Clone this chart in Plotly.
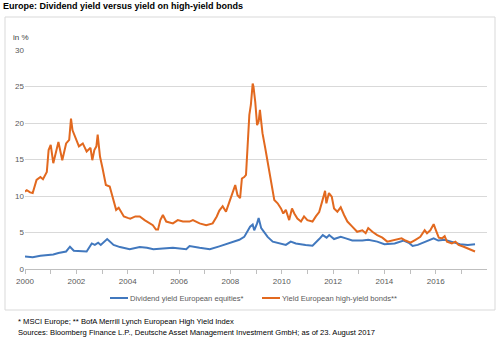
import datetime as dt
import plotly.graph_objects as go

# ---------------- data (decimal years, % values) ----------------
bond_years = [2000.00, 2000.07, 2000.2, 2000.3, 2000.45, 2000.6, 2000.7, 2000.85, 2000.92, 2001.0,
              2001.1, 2001.25, 2001.3, 2001.45, 2001.6, 2001.72, 2001.79, 2001.85, 2001.95, 2002.1,
              2002.25, 2002.4, 2002.55, 2002.62, 2002.7, 2002.78, 2002.83, 2002.92, 2003.02, 2003.15,
              2003.3, 2003.45, 2003.55, 2003.65, 2003.75, 2003.85, 2004.0, 2004.1, 2004.3, 2004.47,
              2004.66, 2004.85, 2004.98, 2005.1, 2005.18, 2005.27, 2005.37, 2005.5, 2005.76, 2005.95,
              2006.15, 2006.41, 2006.54, 2006.8, 2007.06, 2007.31, 2007.47, 2007.57, 2007.7, 2007.83,
              2007.96, 2008.09, 2008.19, 2008.28, 2008.38, 2008.45, 2008.54, 2008.61, 2008.67, 2008.74,
              2008.8, 2008.87, 2008.9, 2008.97, 2009.04, 2009.1, 2009.15, 2009.2, 2009.25, 2009.36,
              2009.45, 2009.51, 2009.62, 2009.71, 2009.84, 2009.97, 2010.06, 2010.16, 2010.29, 2010.4,
              2010.49, 2010.61, 2010.75, 2010.87, 2011.0, 2011.2, 2011.33, 2011.46, 2011.58, 2011.69,
              2011.74, 2011.84, 2011.95, 2012.04, 2012.17, 2012.3, 2012.43, 2012.56, 2012.75, 2012.94,
              2013.14, 2013.27, 2013.37, 2013.53, 2013.72, 2013.92, 2014.11, 2014.3, 2014.5, 2014.67,
              2014.82, 2015.02, 2015.21, 2015.4, 2015.57, 2015.66, 2015.79, 2015.92, 2016.01, 2016.12,
              2016.25, 2016.35, 2016.44, 2016.63, 2016.77, 2016.89, 2017.09, 2017.28, 2017.39, 2017.53]
bond_values = [10.6, 10.8, 10.5, 10.4, 12.2, 12.6, 12.3, 13.3, 16.3, 17.0,
               14.5, 16.8, 17.4, 14.9, 17.2, 17.7, 20.6, 19.0, 18.1, 16.8,
               17.2, 16.1, 16.6, 14.9, 16.3, 16.8, 18.4, 15.4, 13.8, 11.5,
               11.3, 9.2, 8.1, 8.4, 7.8, 7.2, 7.0, 6.9, 7.2, 7.2,
               6.7, 6.3, 6.0, 5.4, 5.4, 6.7, 7.4, 6.5, 6.25, 6.7,
               6.5, 6.5, 6.7, 6.25, 6.0, 6.25, 7.2, 8.0, 8.6, 7.85,
               9.2, 10.6, 11.5, 10.1, 9.7, 12.4, 12.6, 12.9, 16.5, 21.1,
               22.5, 25.4, 25.0, 22.9, 19.7, 20.2, 21.8, 19.7, 18.6, 16.5,
               14.7, 13.3, 11.05, 9.45, 9.0, 8.3, 7.6, 8.1, 6.7, 8.3,
               7.6, 6.9, 6.5, 7.2, 6.7, 6.5, 7.2, 7.8, 9.3, 10.7,
               9.0, 10.4, 9.9, 8.3, 7.85, 8.45, 7.4, 6.5, 5.8, 5.1,
               5.3, 4.9, 5.6, 5.1, 4.65, 4.3, 3.75, 3.9, 4.0, 4.2,
               3.9, 3.6, 4.0, 4.4, 5.3, 4.9, 5.3, 6.15, 5.3, 4.3,
               4.2, 4.5, 3.75, 3.5, 3.75, 3.3, 3.05, 2.8, 2.6, 2.4]

div_years = [2000.0, 2000.3, 2000.6, 2001.1, 2001.3, 2001.6, 2001.75, 2001.9, 2002.4, 2002.6,
             2002.72, 2002.85, 2002.95, 2003.2, 2003.45, 2003.7, 2004.08, 2004.47, 2004.75, 2005.0,
             2005.37, 2005.76, 2006.28, 2006.41, 2006.8, 2007.2, 2007.57, 2007.83, 2008.09, 2008.35,
             2008.54, 2008.67, 2008.77, 2008.87, 2008.93, 2009.04, 2009.1, 2009.2, 2009.3, 2009.45,
             2009.65, 2009.9, 2010.16, 2010.35, 2010.55, 2010.93, 2011.2, 2011.46, 2011.6, 2011.75,
             2011.85, 2012.04, 2012.3, 2012.5, 2012.75, 2013.14, 2013.37, 2013.72, 2014.0, 2014.4,
             2014.75, 2014.95, 2015.1, 2015.3, 2015.6, 2015.92, 2016.1, 2016.35, 2016.6, 2016.95,
             2017.25, 2017.53]
div_values = [1.7, 1.6, 1.8, 2.0, 2.2, 2.4, 3.05, 2.5, 2.4, 3.5,
              3.3, 3.6, 3.3, 4.1, 3.3, 3.0, 2.7, 3.0, 2.9, 2.7,
              2.8, 2.9, 2.7, 3.15, 2.9, 2.7, 3.1, 3.4, 3.75, 4.0,
              4.4, 5.1, 5.8, 6.1, 5.3, 6.25, 7.0, 5.6, 5.1, 4.4,
              3.75, 3.5, 3.3, 3.75, 3.5, 3.3, 3.2, 4.1, 4.65, 4.3,
              4.65, 4.1, 4.4, 4.2, 3.9, 3.9, 4.0, 3.75, 3.4, 3.5,
              3.9, 3.6, 3.15, 3.3, 3.75, 4.2, 3.9, 4.0, 3.75, 3.4,
              3.3, 3.4]

series_names = ["Dividend yield European equities*", "Yield European high-yield bonds**"]
series_colors = ["#4178BE", "#E2691F"]

title_text = "Europe: Dividend yield versus yield on high-yield bonds"
unit_text = "in %"
footnote_1 = "* MSCI Europe; ** BofA Merrill Lynch European High Yield Index"
footnote_2 = "Sources: Bloomberg Finance L.P., Deutsche Asset Management Investment GmbH; as of 23. August 2017"
x_tick_years = [2000, 2002, 2004, 2006, 2008, 2010, 2012, 2014, 2016]


def to_date(y):
    base = dt.datetime(int(y), 1, 1)
    return base + dt.timedelta(days=(y - int(y)) * 365.25)


fig = go.Figure()
fig.add_trace(go.Scatter(x=[to_date(v) for v in div_years], y=div_values, mode="lines",
                         name=series_names[0], line=dict(color=series_colors[0], width=2),
                         showlegend=False))
fig.add_trace(go.Scatter(x=[to_date(v) for v in bond_years], y=bond_values, mode="lines",
                         name=series_names[1], line=dict(color=series_colors[1], width=2),
                         showlegend=False))

W, H = 500, 341
L, R, T, B = 25, 13, 50, 72
pw, ph = W - L - R, H - T - B


def px(X):
    return (X - L) / pw


def py(Y):
    return (H - B - Y) / ph


shapes = [
    dict(type="rect", xref="paper", yref="paper", x0=px(5), x1=px(495), y0=py(310), y1=py(17),
         line=dict(color="#D9D9D9", width=1), layer="below"),
]
annotations = [
    dict(text="<b>" + title_text + "</b>", xref="paper", yref="paper", x=px(1), y=py(6),
         xanchor="left", yanchor="middle", showarrow=False,
         font=dict(family="Liberation Sans, Arial", size=9, color="#000000")),
    dict(text=unit_text, xref="paper", yref="paper", x=px(11), y=py(37),
         xanchor="left", yanchor="middle", showarrow=False,
         font=dict(family="Liberation Sans, Arial", size=8, color="#404040")),
    dict(text=footnote_1, xref="paper", yref="paper", x=px(16), y=py(321),
         xanchor="left", yanchor="middle", showarrow=False,
         font=dict(family="Liberation Sans, Arial", size=7.6, color="#000000")),
    dict(text=footnote_2, xref="paper", yref="paper", x=px(16), y=py(332),
         xanchor="left", yanchor="middle", showarrow=False,
         font=dict(family="Liberation Sans, Arial", size=7.6, color="#000000")),
]

# manual legend (short line keys like the original)
leg_items = [(110, 128), (262, 280)]
for (x0, xt), name, col in zip(leg_items, series_names, series_colors):
    shapes.append(dict(type="line", xref="paper", yref="paper", x0=px(x0), x1=px(x0 + 18),
                       y0=py(298), y1=py(298), line=dict(color=col, width=2)))
    annotations.append(dict(text=name, xref="paper", yref="paper", x=px(xt), y=py(298),
                            xanchor="left", yanchor="middle", showarrow=False,
                            font=dict(family="Liberation Sans, Arial", size=7.6, color="#595959")))

fig.update_layout(
    width=W, height=H,
    margin=dict(l=L, r=R, t=T, b=B),
    paper_bgcolor="white", plot_bgcolor="white",
    shapes=shapes, annotations=annotations,
    showlegend=False,
    xaxis=dict(type="date", range=[dt.datetime(2000, 1, 1), dt.datetime(2017, 12, 31)],
               tickvals=[dt.datetime(y, 1, 1) for y in x_tick_years],
               ticktext=[str(y) for y in x_tick_years],
               ticks="outside", ticklen=4, tickcolor="#BFBFBF",
               minor=dict(dtick="M12", tick0="2000-01-01", ticks="outside", ticklen=4,
                          tickcolor="#BFBFBF"),
               showline=True, linecolor="#BFBFBF", linewidth=1, showgrid=False,
               tickfont=dict(family="Liberation Sans, Arial", size=8, color="#595959")),
    yaxis=dict(range=[0, 30], dtick=5, showgrid=True, gridcolor="#D9D9D9", gridwidth=1,
               zeroline=False, showline=False, ticks="",
               tickfont=dict(family="Liberation Sans, Arial", size=8, color="#595959")),
)

fig.write_html("out.html")
